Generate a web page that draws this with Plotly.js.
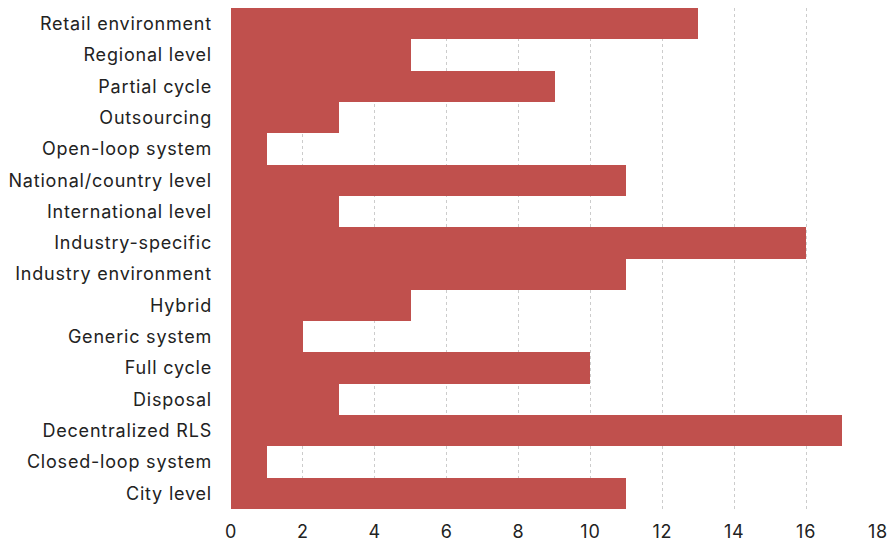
<!DOCTYPE html>
<html><head><meta charset="utf-8">
<script src="https://cdn.plot.ly/plotly-3.0.1.min.js"></script>
<style>html,body{margin:0;padding:0;background:#fff}#c{width:894px;height:549px}
#c .ytick text, #c .xtick text{letter-spacing:0.8px}</style>
</head><body><div id="c"></div>
<script>
const categories = ["Retail environment","Regional level","Partial cycle","Outsourcing","Open-loop system","National/country level","International level","Industry-specific","Industry environment","Hybrid","Generic system","Full cycle","Disposal","Decentralized RLS","Closed-loop system","City level"];
const values = [13,5,9,3,1,11,3,16,11,5,2,10,3,17,1,11];
const xTicks = [0,2,4,6,8,10,12,14,16,18];

Plotly.newPlot('c', [{
  type:'bar', orientation:'h', y:categories, x:values,
  marker:{color:'#c0504d', line:{width:0}},
  hoverinfo:'x+y'
}], {
  width:894, height:549,
  margin:{l:231, r:16, t:8, b:40},
  bargap:0,
  paper_bgcolor:'#fff', plot_bgcolor:'#fff',
  font:{family:'Inter, "Noto Sans", sans-serif', size:18, color:'#222'},
  xaxis:{range:[0,18], tickvals:xTicks, ticktext:xTicks.map(String), showgrid:true, gridcolor:'#cccccc', griddash:'dot', gridwidth:1, zeroline:false, showline:false, ticks:'', ticklabelstandoff:10},
  yaxis:{type:'category', autorange:'reversed', showgrid:false, zeroline:false, showline:false, ticks:'', ticklabelstandoff:18},
  showlegend:false
}, {displayModeBar:false});
</script></body></html>
